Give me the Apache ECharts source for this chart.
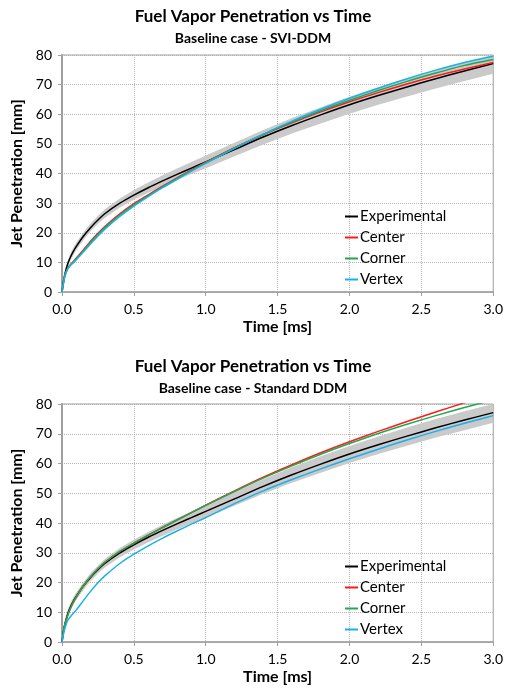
<!DOCTYPE html>
<html>
<head>
<meta charset="utf-8">
<script src="https://cdn.jsdelivr.net/npm/echarts@6/dist/echarts.min.js"></script>
<style>
html,body{margin:0;padding:0;background:#fff;}
#c{width:506px;height:694px;}
</style>
</head>
<body>
<div id="c"></div>
<script>
// ---- Data ----
var times = [0,0.01,0.02,0.04,0.06,0.08,0.1,0.15,0.2,0.25,0.3,0.4,0.5,0.6,0.7,0.8,0.9,1.0,1.2,1.4,1.6,1.8,2.0,2.2,2.4,2.6,2.8,3.0];
var xTicks = ['0.0','0.5','1.0','1.5','2.0','2.5','3.0'];

// Experimental (same in both panels)
var experimental = [0,3.5,6,9.5,11.9,13.8,15.4,18.9,21.8,24.3,26.5,29.9,32.7,35.2,37.5,39.7,41.8,43.9,48.1,52.3,56.2,59.8,63.2,66.3,69.2,72,74.6,77.1];
var expBandLow  = [0,2.5,5,8.3,10.7,12.6,14.2,17.6,20.5,23,25.1,28.4,31.1,33.5,35.7,37.8,39.8,41.8,45.8,49.8,53.5,56.9,60.2,63.2,66,68.7,71.2,73.7];
var expBandHigh = [0,4.5,7.2,10.8,13.2,15.1,16.7,20.2,23.2,25.7,28,31.5,34.4,37,39.4,41.7,43.9,46.1,50.4,54.7,58.7,62.4,65.9,69.1,72.1,75,77.6,80];

// Panel 1: SVI-DDM
var sviCenter = [0,3,5.5,8,9.3,10.3,11.5,14.3,17.2,19.8,22.2,26.3,29.8,32.8,35.7,38.5,41.2,43.8,48.7,53.1,57.1,60.8,64.2,67.3,70.2,72.9,75.3,77.5];
var sviCorner = [0,3,5.5,8,9.2,10.1,11.2,14,16.8,19.4,21.8,25.9,29.4,32.5,35.5,38.3,41,43.6,48.6,53.2,57.4,61.2,64.7,68,71.1,73.9,76.5,78.5];
var sviVertex = [0,3,5.5,7.8,9,9.9,10.9,13.6,16.3,18.9,21.3,25.4,29,32.2,35.2,38,40.8,43.4,48.5,53.3,57.7,61.7,65.4,68.8,72,74.9,77.5,79.6];

// Panel 2: Standard DDM
var stdCenter = [0,3.5,6,9,11.5,13.5,15.2,19,22,24.6,26.9,30.4,33.2,35.9,38.5,41,43.5,46,50.8,55.4,59.6,63.6,67.3,70.8,74.1,77.3,80.4,83.4];
var stdCorner = [0,3.5,6,9,11.5,13.5,15.2,19,22,24.6,26.9,30.4,33.2,35.9,38.5,41,43.5,45.9,50.6,55.1,59.2,63.1,66.7,70.1,73.2,76.1,78.8,81.4];
var stdVertex = [0,2.5,4.5,7.3,8.6,9.7,10.8,14,17.1,19.9,22.3,26.3,29.5,32.3,34.9,37.3,39.6,41.8,46.5,50.8,54.6,58.2,61.6,64.8,67.9,70.8,73.5,76.1];

var names = ['Experimental','Center','Corner','Vertex'];
var colors = ['#000000','#ff1a1a','#1fa84f','#1ab0ec'];

// ---- Build ----
function pairs(arr){ return times.map(function(t,i){ return [t, arr[i]]; }); }

var FONT = 'Lato';
var grids = [
  {left:62, right:12, top:55, height:237},
  {left:62, right:12, top:404, height:238}
];

function xAxis(idx){
  return {
    gridIndex: idx, type:'value', min:0, max:3, interval:0.5,
    name:'Time [ms]', nameLocation:'middle', nameGap:27,
    nameTextStyle:{fontFamily:FONT, fontWeight:'bold', fontSize:16, color:'#000'},
    axisLine:{show:true, lineStyle:{color:'#a0a0a0', width:1.5}},
    axisTick:{show:true, length:4, lineStyle:{color:'#a0a0a0'}},
    axisLabel:{fontFamily:FONT, fontSize:14, color:'#000', margin:10,
      formatter:function(v){ return xTicks[Math.round(v/0.5)]; }},
    splitLine:{show:true, lineStyle:{color:'#b4b4b4', type:'dotted', width:1}}
  };
}
function yAxis(idx){
  return {
    gridIndex: idx, type:'value', min:0, max:80, interval:10,
    name:'Jet Penetration [mm]', nameLocation:'middle', nameGap:34,
    nameTextStyle:{fontFamily:FONT, fontWeight:'bold', fontSize:16, color:'#000'},
    axisLine:{show:true, lineStyle:{color:'#a0a0a0', width:2}},
    axisTick:{show:true, length:4, lineStyle:{color:'#a0a0a0'}},
    axisLabel:{fontFamily:FONT, fontSize:14, color:'#000', margin:10},
    splitLine:{show:true, lineStyle:{color:'#b4b4b4', type:'dotted', width:1}}
  };
}

function bandSeries(gi){
  return {
    type:'custom', xAxisIndex:gi, yAxisIndex:gi, silent:true, z:2,
    data:[[0,0]],
    renderItem:function(params, api){
      var pts = [];
      for (var i=0;i<times.length;i++) pts.push(api.coord([times[i], expBandHigh[i]]));
      for (var j=times.length-1;j>=0;j--) pts.push(api.coord([times[j], expBandLow[j]]));
      return {type:'polygon', shape:{points:pts, smooth:0}, style:{fill:'#cacaca', stroke:'none'}};
    }
  };
}

var series = [];
var panels = [[sviCenter, sviCorner, sviVertex],[stdCenter, stdCorner, stdVertex]];
panels.forEach(function(p, gi){
  series.push(bandSeries(gi));
  var all = [experimental].concat(p);
  all.forEach(function(arr, k){
    series.push({name:names[k], type:'line', xAxisIndex:gi, yAxisIndex:gi,
      data:pairs(arr), symbol:'none', smooth:0.25, z: 3 + k,
      lineStyle:{color:colors[k], width:1.5}, itemStyle:{color:colors[k]}});
  });
});

function legend(top){
  return {
    left:340, top:top, orient:'vertical', itemGap:6, itemWidth:13, itemHeight:2,
    icon:'rect', data:names, selectedMode:false,
    textStyle:{fontFamily:FONT, fontSize:15, color:'#000', padding:[0,0,0,-3]}
  };
}

var option = {
  animation:false,
  backgroundColor:'#ffffff',
  title:[
    {text:'Fuel Vapor Penetration vs Time', left:'center', top:8, padding:0,
      textStyle:{fontFamily:FONT, fontWeight:'bold', fontSize:17, color:'#000'}},
    {text:'Baseline case - SVI-DDM', left:'center', top:31, padding:0,
      textStyle:{fontFamily:FONT, fontWeight:'bold', fontSize:14, color:'#000'}},
    {text:'Fuel Vapor Penetration vs Time', left:'center', top:358, padding:0,
      textStyle:{fontFamily:FONT, fontWeight:'bold', fontSize:17, color:'#000'}},
    {text:'Baseline case - Standard DDM', left:'center', top:381, padding:0,
      textStyle:{fontFamily:FONT, fontWeight:'bold', fontSize:14, color:'#000'}}
  ],
  grid: grids.map(function(g){ return Object.assign({show:true, borderColor:'#a0a0a0', borderWidth:1, backgroundColor:'transparent'}, g); }),
  xAxis:[xAxis(0), xAxis(1)],
  yAxis:[yAxis(0), yAxis(1)],
  legend:[legend(204), legend(554)],
  series:series
};

var chart = echarts.init(document.getElementById('c'), null, {renderer:'canvas'});
chart.setOption(option);
</script>
</body>
</html>
